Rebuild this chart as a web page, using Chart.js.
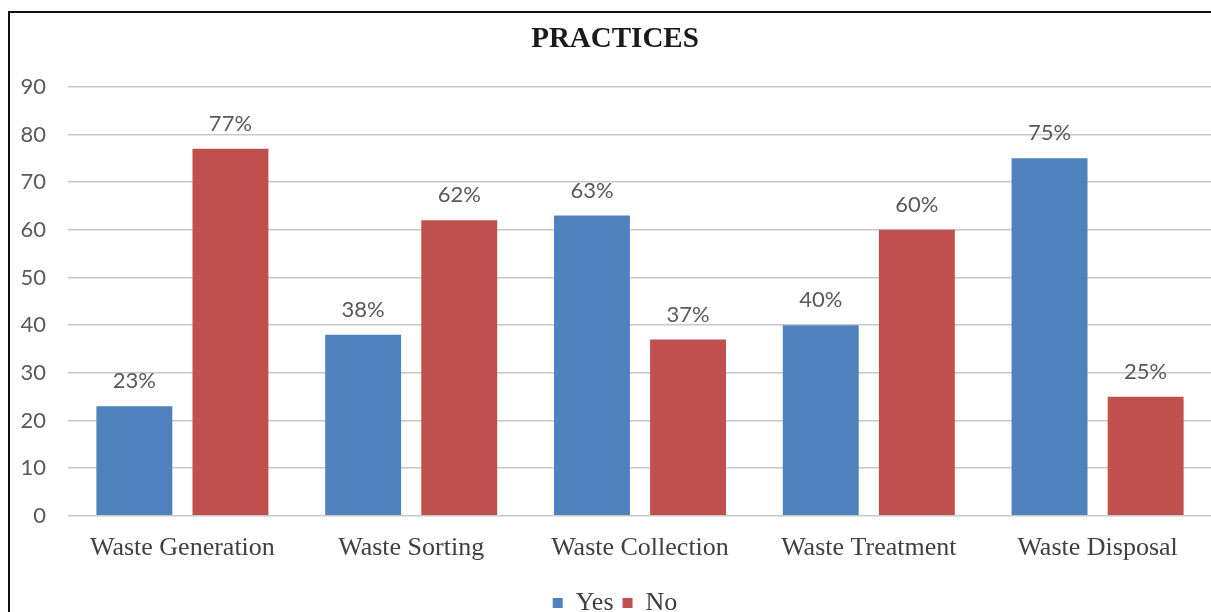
<!DOCTYPE html>
<html>
<script src="https://cdn.jsdelivr.net/npm/chart.js@4/dist/chart.umd.min.js"></script>
<style>
  html, body { margin: 0; padding: 0; background: #fff; overflow: hidden; }
  #myChart { position: absolute; left: 0; top: 0; display: block; }
  #frame {
    position: absolute; left: 8px; top: 11px; z-index: 2;
    width: 1230px; height: 620px; pointer-events: none;
    border-left: 2px solid #111; border-top: 2px solid #111;
  }
</style>
<body>
<canvas id="myChart" width="1212" height="626"></canvas>
<div id="frame"></div>
</body>

<script>
// practices survey, percent answering yes / no per stage
var stages = ["Waste Generation", "Waste Sorting", "Waste Collection", "Waste Treatment", "Waste Disposal"];
var yesValues = [23, 38, 63, 40, 75];
var noValues = [77, 62, 37, 60, 25];
var yTicks = [0, 10, 20, 30, 40, 50, 60, 70, 80, 90];

// percent label over each bar
var barLabels = {
  id: "barLabels",
  afterDatasetsDraw: function (chart) {
    var ctx = chart.ctx;
    ctx.save();
    ctx.font = "22px Lato";
    ctx.fillStyle = "#595959";
    ctx.textAlign = "center";
    ctx.textBaseline = "middle";
    chart.data.datasets.forEach(function (ds, i) {
      chart.getDatasetMeta(i).data.forEach(function (bar, j) {
        ctx.fillText(ds.data[j] + "%", bar.x, bar.y - 25);
      });
    });
    ctx.restore();
  }
};

new Chart("myChart", {
  type: "bar",
  data: {
    labels: stages,
    datasets: [{
      label: "Yes",
      data: yesValues,
      backgroundColor: "#4F81BD"
    }, {
      label: "No",
      data: noValues,
      backgroundColor: "#C0504D"
    }]
  },
  options: {
    responsive: false,
    animation: false,
    devicePixelRatio: 1,
    categoryPercentage: 0.84,
    barPercentage: 0.79,
    // stage names may overhang the plot edges, no extra room for them
    layout: { autoPadding: false, padding: { left: 18, right: 0, top: 0, bottom: 0 } },
    plugins: {
      title: {
        display: true,
        text: "PRACTICES",
        color: "#1a1a1a",
        font: { family: "Liberation Serif", size: 29, weight: "bold" },
        padding: { top: 22, bottom: 30 }
      },
      legend: {
        position: "bottom",
        labels: {
          boxWidth: 10,
          boxHeight: 10,
          padding: 9,
          color: "#404040",
          font: { family: "Liberation Serif", size: 26 }
        }
      },
      tooltip: { enabled: false }
    },
    scales: {
      x: {
        grid: { display: false, drawTicks: false },
        border: { display: false },
        ticks: {
          color: "#404040",
          padding: 17,
          maxRotation: 0,
          font: { family: "Liberation Serif", size: 26 }
        }
      },
      y: {
        min: 0,
        max: 90,
        afterBuildTicks: function (axis) {
          axis.ticks = yTicks.map(function (v) { return { value: v }; });
        },
        afterFit: function (axis) {
          axis.width = 50;
        },
        grid: { color: "#C8C8C8", lineWidth: 1.5, drawTicks: false },
        border: { display: false },
        ticks: {
          color: "#595959",
          padding: 22,
          font: { family: "Lato", size: 22 }
        }
      }
    }
  },
  plugins: [barLabels]
});
</script>
</html>
